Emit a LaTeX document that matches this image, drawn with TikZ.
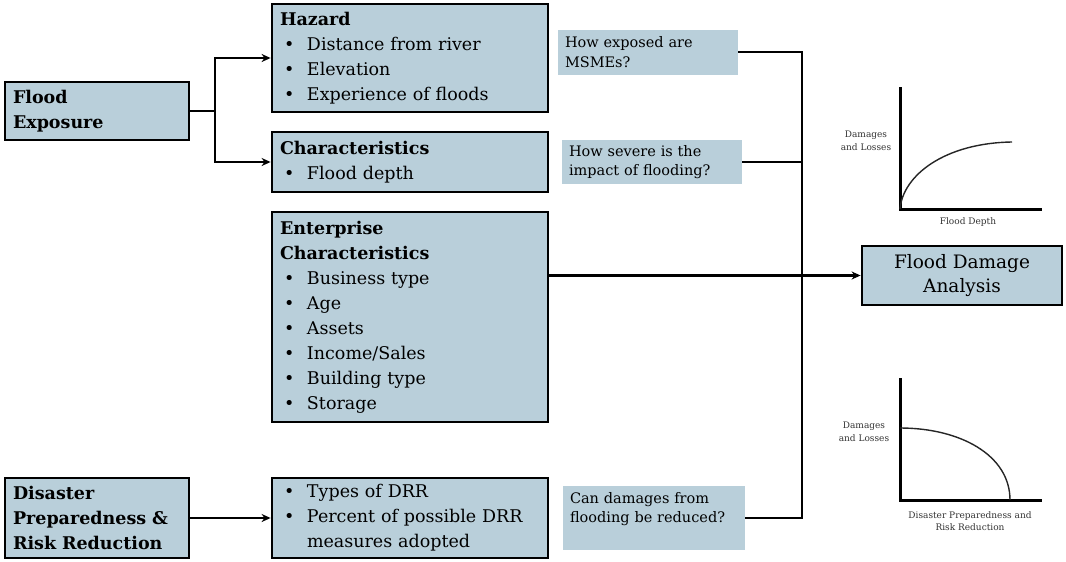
\documentclass[tikz,border=0pt]{standalone}
\usepackage{fontspec}
\setmainfont{DejaVu Serif}
\usetikzlibrary{arrows.meta}
\definecolor{boxfill}{RGB}{185,207,218}
\newcommand{\itm}{\makebox[27pt][l]{\hspace{4pt}\textbullet}}
\newcommand{\mainsz}{\fontsize{17.5}{25}\selectfont}
\newcommand{\qsz}{\fontsize{14.5}{19.5}\selectfont}
\newcommand{\gsz}{\fontsize{9}{12.5}\selectfont}

\begin{document}
\begin{tikzpicture}[x=1pt,y=-1pt,
  box/.style={draw=black, line width=2.8pt, fill=boxfill, inner xsep=8pt,
    inner ysep=0pt, align=left, font=\mainsz},
  qbox/.style={fill=boxfill, inner xsep=7pt, inner ysep=0pt, align=left, font=\qsz},
  wire/.style={draw=black, line width=2.6pt},
  arr/.style={wire, -{Stealth[length=9pt,width=8pt]}},
  axis/.style={draw=black, line width=3pt},
  curve/.style={draw=black!85, line width=1.4pt},
  glabel/.style={font=\gsz, text=black!80, align=center, inner sep=0pt}
]
\useasboundingbox (0,0) rectangle (1066,562);
\fill[white] (0,0) rectangle (1066,562);

% left column
\node[box, text width=168pt, minimum height=58pt] (fe) at (97,111)
  {\textbf{Flood}\\\textbf{Exposure}};
\node[box, text width=168pt, minimum height=80pt] (dp) at (97,518)
  {\textbf{Disaster}\\\textbf{Preparedness \&}\\\textbf{Risk Reduction}};

% middle column
\node[box, text width=260pt, minimum height=108pt] (hz) at (410,58)
  {\textbf{Hazard}\\\itm Distance from river\\\itm Elevation\\\itm Experience of floods};
\node[box, text width=260pt, minimum height=60pt] (ch) at (410,162)
  {\textbf{Characteristics}\\\itm Flood depth};
\node[box, text width=260pt, minimum height=210pt] (ec) at (410,317)
  {\textbf{Enterprise}\\\textbf{Characteristics}\\\itm Business type\\\itm Age\\\itm Assets\\\itm Income/Sales\\\itm Building type\\\itm Storage};
\node[box, text width=260pt, minimum height=80pt] (drr) at (410,518)
  {\itm Types of DRR\\\itm Percent of possible DRR\\\hspace{27pt}measures adopted};

% questions
\node[qbox, text width=166pt, minimum height=45pt] (q1) at (648,52)
  {How exposed are\\MSMEs?};
\node[qbox, text width=166pt, minimum height=44pt] (q2) at (652,162)
  {How severe is the\\impact of flooding?};
\node[qbox, minimum width=182pt, minimum height=64pt] (q3) at (654,518) {};
\node[qbox, fill=none, anchor=north west, text width=168pt] (q3t) at ([yshift=-6pt]q3.north west)
  {Can damages from\\flooding be reduced?};

% result
\node[box, align=center, minimum width=200pt, minimum height=59pt, font=\fontsize{18.5}{24}\selectfont] (fda) at (962,275.5)
  {Flood Damage\\Analysis};

% connectors
\coordinate (split) at (215,111);
\draw[wire] (fe.east) -- (split);
\draw[arr] (split) |- (hz.west);
\draw[arr] (split) |- (ch.west);
\draw[arr] (dp.east) -- (drr.west);
\draw[arr] (ec.east |- fda.west) -- (fda.west);
\coordinate (bus) at (802,0);
\draw[wire] (q1.east) -| (bus |- q3.east) -- (q3.east);
\draw[wire] (q2.east) -- (bus |- q2.east);

% damage vs depth
\coordinate (o1) at (900,209);
\draw[axis] (900,87) -- (o1) -- (1042,209);
\draw[curve] (o1) .. controls (903,175) and (945,143) .. (1012,142);
\node[glabel] (yl1) at (866,141) {Damages\\and Losses};
\node[glabel] (xl1) at (968,222) {Flood Depth};

% damage vs preparedness
\coordinate (o2) at (900,500);
\draw[axis] (900,378) -- (o2) -- (1042,500);
\draw[curve] (900,428) .. controls (960,428) and (1010,455) .. (1010,500);
\node[glabel] (yl2) at (864,432) {Damages\\and Losses};
\node[glabel] (xl2) at (970,521) {Disaster Preparedness and\\Risk Reduction};
\end{tikzpicture}
\end{document}
